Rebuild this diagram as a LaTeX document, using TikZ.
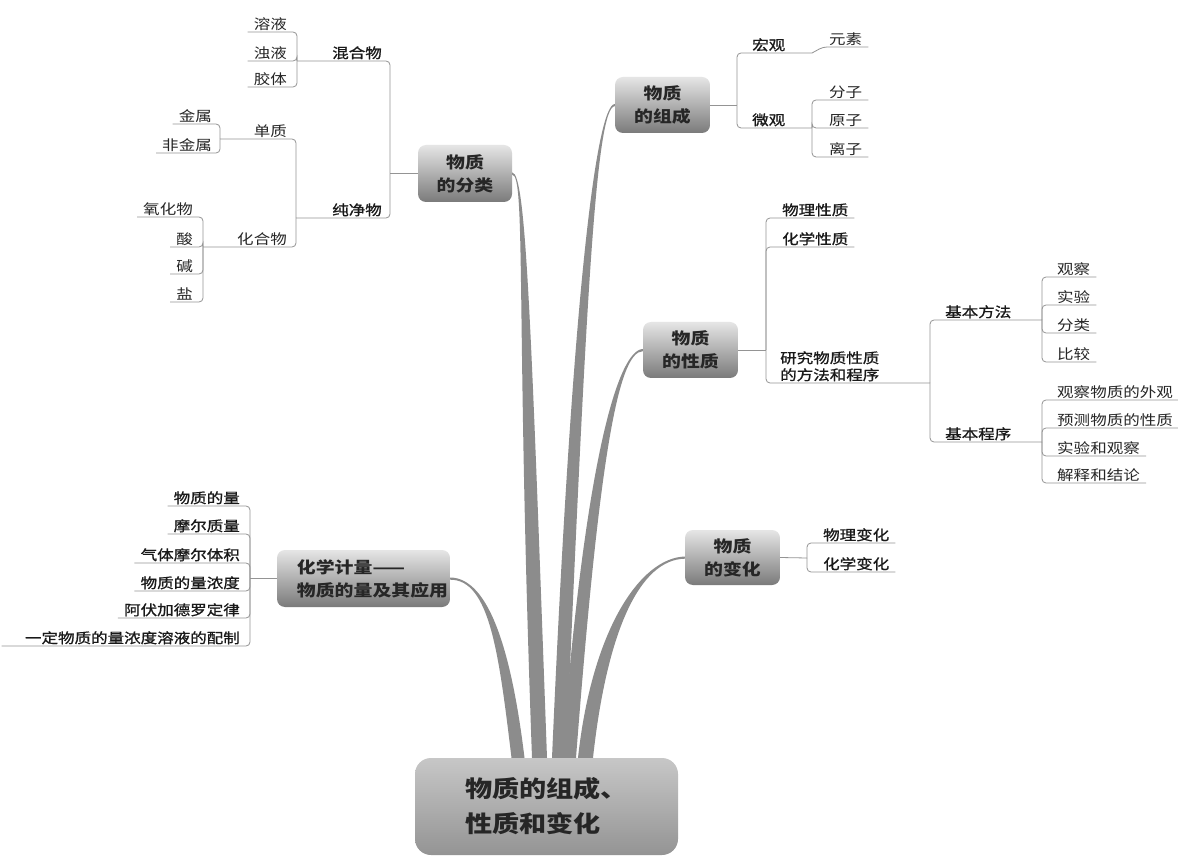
\documentclass[tikz,border=0pt]{standalone}
\usepackage{fontspec}
\setmainfont{Noto Sans CJK SC}[FakeStretch=1.18]
\newfontfamily\strongfont{Noto Sans CJK SC}[FakeStretch=1.18, FakeBold=1]
\usetikzlibrary{calc}
\tikzset{
  link/.style={draw=black!42, line width=0.8pt, rounded corners=4pt},
  lab/.style={font=\fontsize{14}{17}\selectfont, text=black!85, inner xsep=6pt, inner ysep=1.5pt},
  strong/.style={font=\strongfont\fontsize{14}{17}\selectfont, text=black!90},
  rlab/.style={lab, anchor=south west},
  llab/.style={lab, anchor=south east},
  topic/.style={rounded corners=8pt, top color=black!10, bottom color=black!52,
    font=\fontsize{16}{23}\selectfont\bfseries, text=black!85, align=center, inner sep=0pt},
  rootbox/.style={rounded corners=16pt, top color=black!22, bottom color=black!42,
    minimum width=263pt, minimum height=97pt, inner sep=0pt,
    font=\fontsize{23}{35}\selectfont\bfseries, text=black!85, align=left},
  branchfill/.style={fill=black!45},
}
\newcommand\mybranch[5]{%
  \fill[branchfill] ($(#1)+(0,-1)$) .. controls (#2) and (#3) .. ($(#4)-(#5,0)$)
    -- ($(#4)+(#5,0)$) .. controls ($(#3)+(2*#5,0)$) and ($(#2)+(0,1.5)$) .. ($(#1)+(0,1.2)$) -- cycle;}
\begin{document}
\begin{tikzpicture}[x=1pt,y=-1pt]
\useasboundingbox (0,0) rectangle (1178,858);
\fill[white] (0,0) rectangle (1178,858);

% main nodes
\node[rootbox] (root) at (546.5,806.5) {物质的组成、\\性质和变化};
\node[topic, minimum width=94pt, minimum height=57pt] (fenlei) at (465,173.5) {物质\\的分类};
\node[topic, minimum width=95pt, minimum height=56pt] (zucheng) at (662.5,105) {物质\\的组成};
\node[topic, minimum width=95pt, minimum height=56pt] (xingzhi) at (690.5,350) {物质\\的性质};
\node[topic, minimum width=95pt, minimum height=55pt] (bianhua) at (732.5,557.5) {物质\\的变化};
\node[topic, align=left, minimum width=173pt, minimum height=57pt] (jiliang) at (363.5,578.5)
  {\hspace*{18pt}化学计量——\\\hspace*{18pt}物质的量及其应用};

% branches
\coordinate (bJ) at ($(root.north)+(-28.5,0)$);
\coordinate (bF) at ($(root.north)+(-7,0)$);
\coordinate (bZ) at ($(root.north)+(12.5,0)$);
\coordinate (bX) at ($(root.north)+(22.5,0)$);
\coordinate (bB) at ($(root.north)+(39,0)$);
\mybranch{jiliang.east}{490,578}{512,655}{bJ}{-6.5}
\mybranch{fenlei.east}{526,173}{531,320}{bF}{-7.5}
\mybranch{zucheng.west}{596,105}{572,300}{bZ}{7}
\mybranch{xingzhi.west}{618,350}{585,460}{bX}{7}
\mybranch{bianhua.west}{640,558}{592,630}{bB}{7.5}

% ---- classification subtree
\coordinate (jF) at (390,173.5);
\node[llab,strong] (hunhe) at (388,61) {混合物};
\coordinate (jH) at (297,61);
\node[llab] (rongye) at (293,32) {溶液};
\node[llab] (zhuoye) at (293,61) {浊液};
\node[llab] (jiaoti) at (293,87) {胶体};
\node[llab,strong] (chunjing) at (388,218) {纯净物};
\coordinate (jC) at (296,218);
\node[llab] (danzhi) at (293,139) {单质};
\coordinate (jD) at (220,139);
\node[llab] (jinshu) at (218,124) {金属};
\node[llab] (feijinshu) at (218,153) {非金属};
\node[llab] (huahewu) at (293,247) {化合物};
\coordinate (jK) at (203,247);
\node[llab] (yanghuawu) at (199,217) {氧化物};
\node[llab] (suan) at (199,247) {酸};
\node[llab] (jian) at (199,274) {碱};
\node[llab] (yan) at (199,302) {盐};
\draw[link] (fenlei.west) -- (jF);
\draw[link] (jF) |- (jH);
\draw[link] (jF) |- (jC);
\foreach \n in {rongye,zhuoye,jiaoti} \draw[link] (jH) |- (\n.south west);
\draw[link] (jC) |- (jD);
\draw[link] (jC) |- (jK);
\foreach \n in {jinshu,feijinshu} \draw[link] (jD) |- (\n.south west);
\foreach \n in {yanghuawu,suan,jian,yan} \draw[link] (jK) |- (\n.south west);

% ---- composition subtree
\coordinate (jZ) at (737,105);
\node[rlab,strong] (hongguan) at (746,53) {宏观};
\coordinate (jZa) at (812,53);
\node[rlab] (yuansu) at (823,47) {元素};
\node[rlab,strong] (weiguan) at (746,128) {微观};
\coordinate (jZb) at (812,128);
\node[rlab] (fenzi) at (823,100) {分子};
\node[rlab] (yuanzi) at (823,128) {原子};
\node[rlab] (lizi) at (823,157) {离子};
\draw[link] (zucheng.east) -- (jZ);
\draw[link] (jZ) |- (jZa);
\draw[link] (jZ) |- (jZb);
\draw[link] (jZa) -- (yuansu.south west) -- (yuansu.south east);
\foreach \n in {fenzi,yuanzi,lizi} \draw[link] (jZb) |- (\n.south east);

% ---- property subtree
\coordinate (jX) at (766,350);
\node[rlab,strong] (wulixz) at (776,218) {物理性质};
\node[rlab,strong] (huaxuexz) at (776,247) {化学性质};
\node[rlab,strong,align=left] (yanjiu) at (774,383) {研究物质性质\\的方法和程序};
\coordinate (jY) at (930,383);
\node[rlab,strong] (jbff) at (939,320) {基本方法};
\coordinate (jM) at (1042,320);
\node[rlab] (guancha) at (1051,277) {观察};
\node[rlab] (shiyan) at (1051,305) {实验};
\node[rlab] (fenlei2) at (1051,333) {分类};
\node[rlab] (bijiao) at (1051,362) {比较};
\node[rlab,strong] (jbcx) at (939,442) {基本程序};
\coordinate (jP) at (1042,442);
\node[rlab] (gcwz) at (1051,400) {观察物质的外观};
\node[rlab] (ycwz) at (1051,428) {预测物质的性质};
\node[rlab] (sygc) at (1051,456) {实验和观察};
\node[rlab] (jsjl) at (1051,483) {解释和结论};
\draw[link] (xingzhi.east) -- (jX);
\draw[link] (jX) |- (wulixz.south east);
\draw[link] (jX) |- (huaxuexz.south east);
\draw[link] (jX) |- (jY);
\draw[link] (jY) |- (jM);
\draw[link] (jY) |- (jP);
\foreach \n in {guancha,shiyan,fenlei2,bijiao} \draw[link] (jM) |- (\n.south east);
\foreach \n in {gcwz,ycwz,sygc,jsjl} \draw[link] (jP) |- (\n.south east);

% ---- change subtree
\coordinate (jB) at (807,558);
\node[rlab,strong] (wlbh) at (817,543) {物理变化};
\node[rlab,strong] (hxbh) at (817,572) {化学变化};
\draw[link] (bianhua.east) -- (jB);
\draw[link] (jB) |- (wlbh.south east);
\draw[link] (jB) |- (hxbh.south east);

% ---- stoichiometry subtree
\coordinate (jJ) at (250,578.5);
\node[llab,strong] (wzdl) at (246,506) {物质的量};
\node[llab,strong] (mezl) at (246,534) {摩尔质量};
\node[llab,strong] (qtmr) at (246,563) {气体摩尔体积};
\node[llab,strong] (wznd) at (246,591) {物质的量浓度};
\node[llab,strong] (afjd) at (246,618) {阿伏加德罗定律};
\node[llab,strong,text width=232pt,align=right] (ydwz) at (246,646) {一定物质的量浓度溶液的配制};
\draw[link] (jiliang.west) -- (jJ);
\foreach \n in {wzdl,mezl,qtmr,wznd,afjd,ydwz} \draw[link] (jJ) |- (\n.south west);
\end{tikzpicture}
\end{document}
